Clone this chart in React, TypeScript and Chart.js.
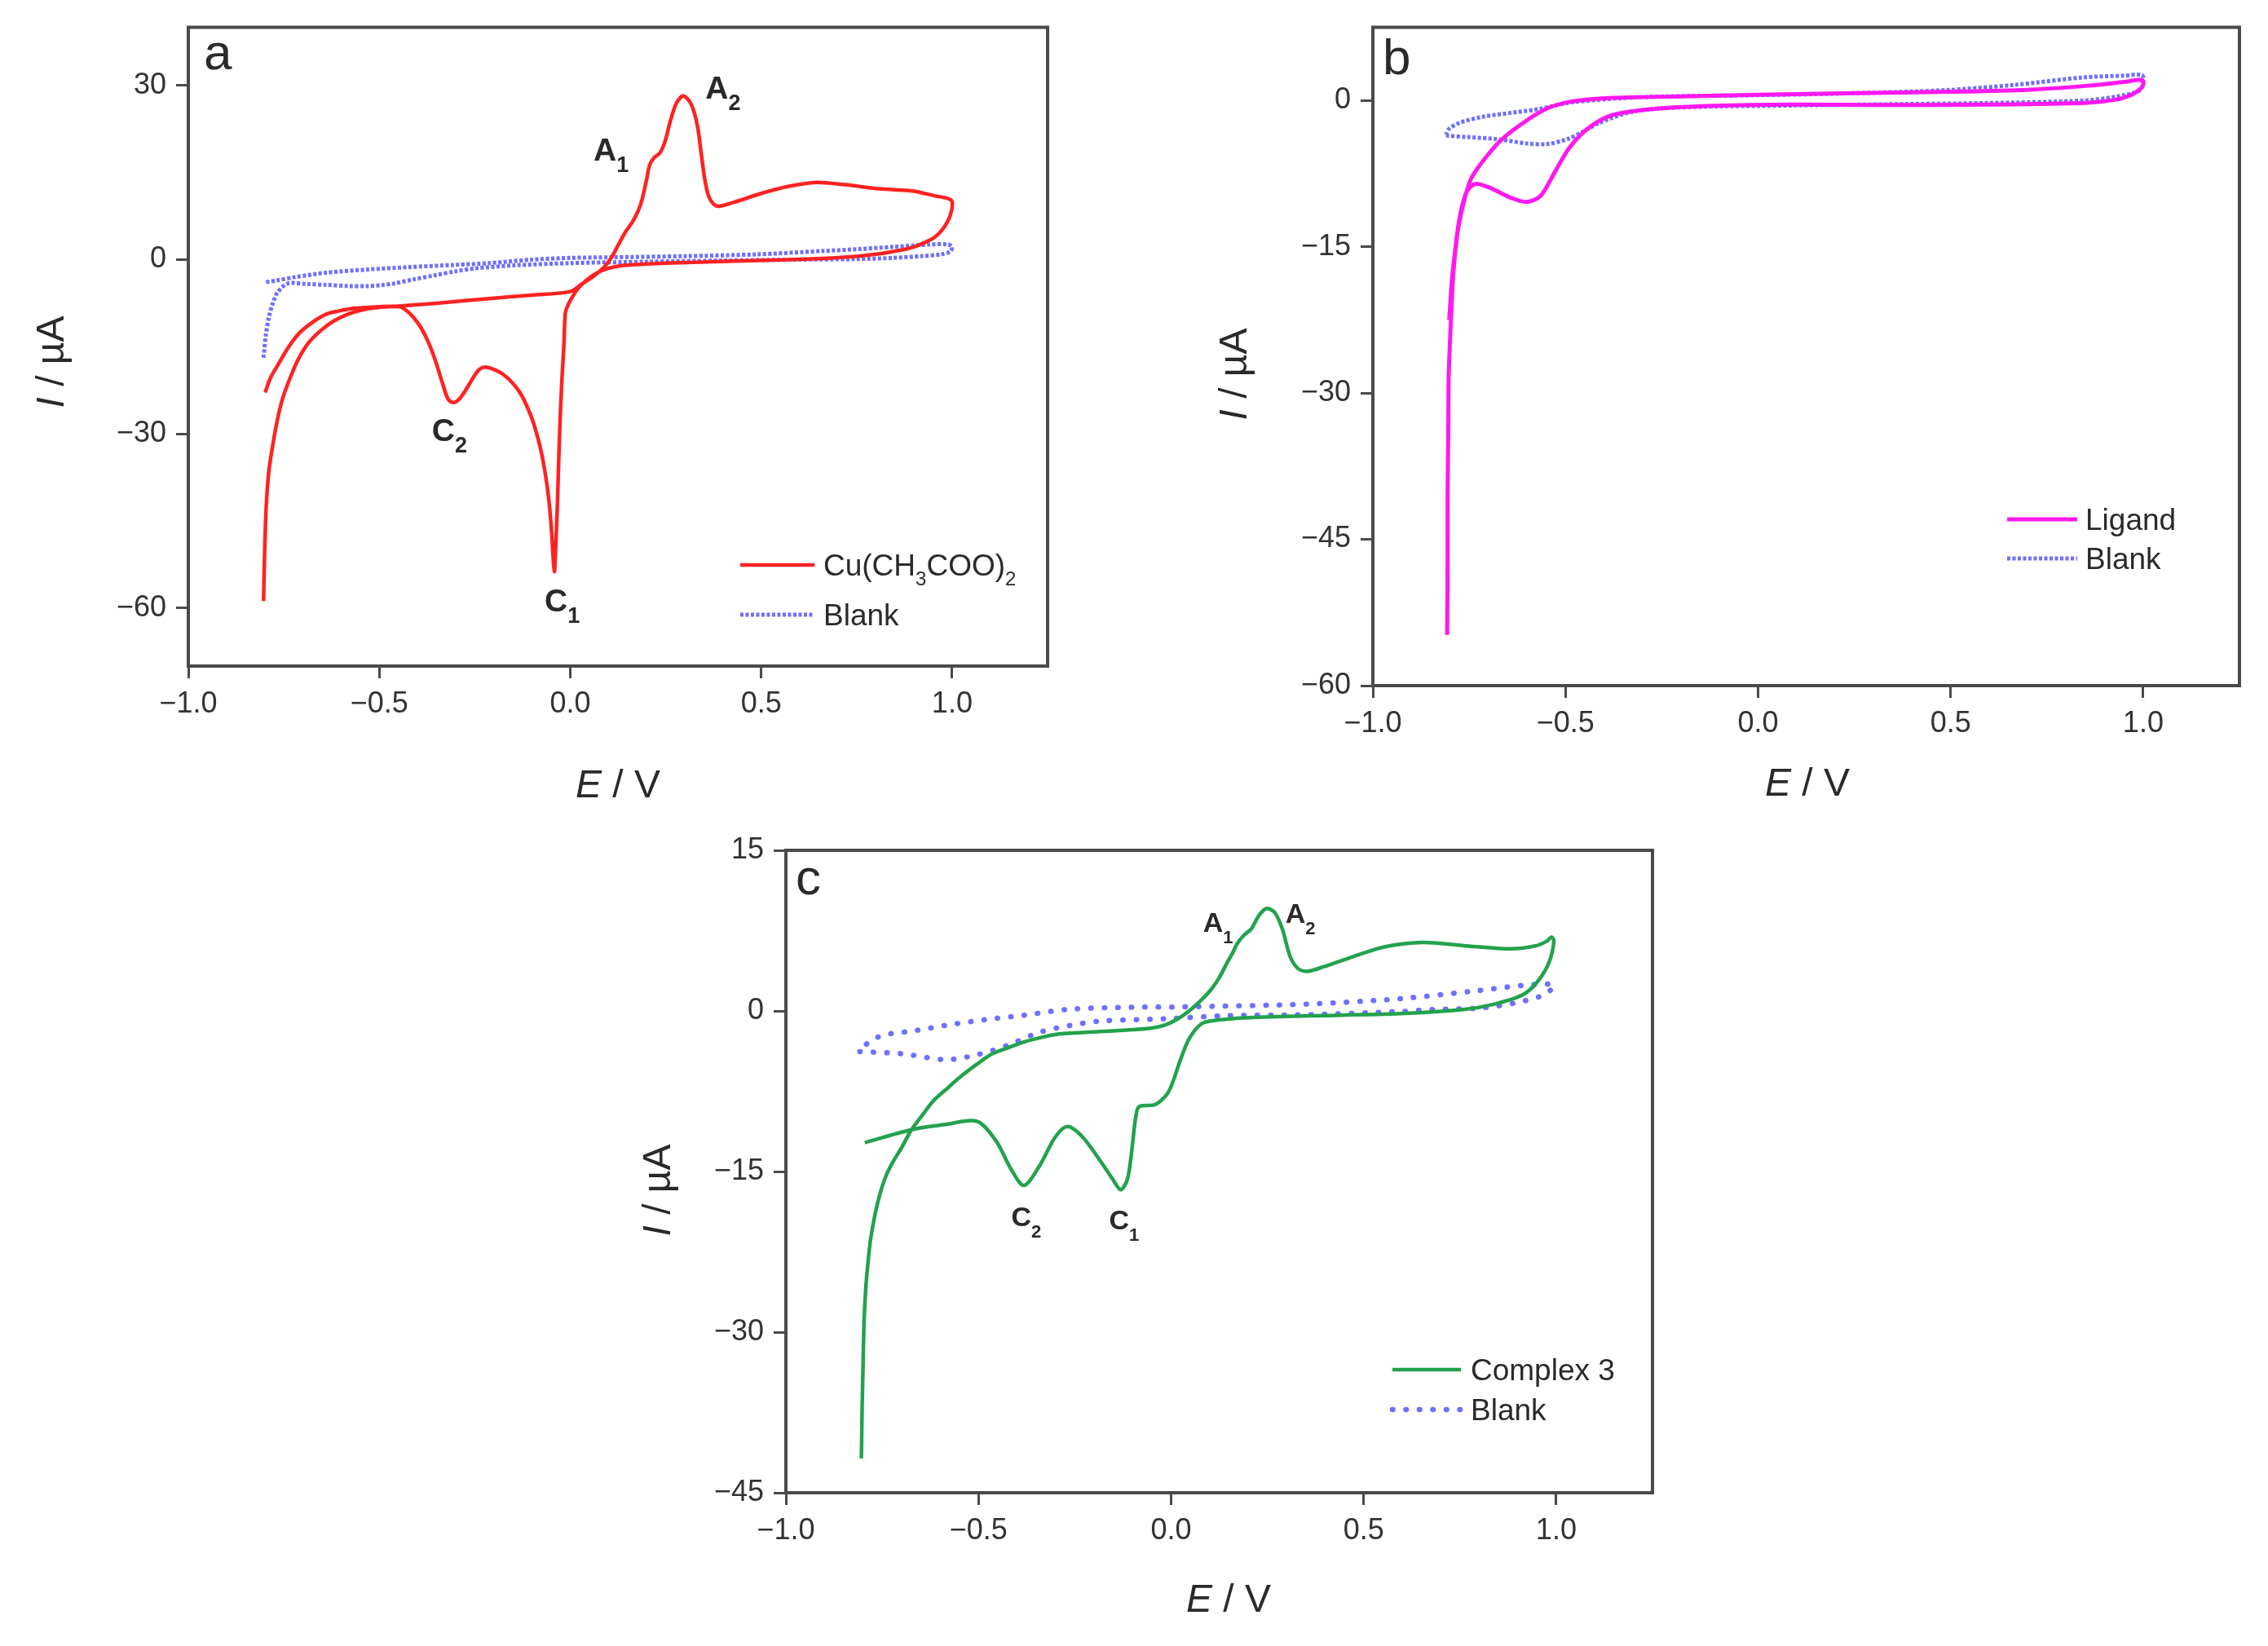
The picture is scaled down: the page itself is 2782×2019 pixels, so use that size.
import React, { useEffect, useRef } from "react";
import { Chart, registerables } from "chart.js";

Chart.register(...registerables);

const W = 2782;
const H = 2019;
const FONT = '"Liberation Sans", Arial, Helvetica, sans-serif';
const AXIS_COLOR = "#4a4a4a";
const TEXT_COLOR = "#2a2a2a";

// ---------- tick values ----------
const X_TICKS = [-1.0, -0.5, 0.0, 0.5, 1.0];
const A_Y_TICKS = [30, 0, -30, -60];
const B_Y_TICKS = [0, -15, -30, -45, -60];
const C_Y_TICKS = [15, 0, -15, -30, -45];

// ---------- series names ----------
const A_SERIES = ["Cu(CH3COO)2", "Blank"];
const B_SERIES = ["Ligand", "Blank"];
const C_SERIES = ["Complex 3", "Blank"];

// ---------- panel a: Cu(CH3COO)2 ----------
const A_CU_E = [
  -0.803, -0.8, -0.796, -0.79, -0.782, -0.768, -0.753, -0.73, -0.71, -0.685, -0.653, -0.62, -0.582, -0.545, -0.511,
  -0.45, -0.35, -0.212, -0.1, 0.0, 0.03, 0.06, 0.09, 0.11, 0.128, 0.145, 0.163, 0.178, 0.188, 0.199, 0.208, 0.22,
  0.235, 0.248, 0.262, 0.277, 0.295, 0.312, 0.325, 0.335, 0.343, 0.352, 0.362, 0.375, 0.39, 0.43, 0.5, 0.57, 0.645,
  0.72, 0.81, 0.9, 0.953, 0.985, 1.0, 0.998, 0.99, 0.975, 0.955, 0.93, 0.9, 0.863, 0.81, 0.755, 0.66, 0.575, 0.45,
  0.305, 0.2, 0.14, 0.1, 0.07, 0.045, 0.02, 0.004, -0.007, -0.013, -0.0165, -0.022, -0.027, -0.031, -0.034, -0.038,
  -0.041, -0.044, -0.0485, -0.055, -0.063, -0.073, -0.084, -0.1, -0.127, -0.15, -0.177, -0.2, -0.223, -0.238, -0.248,
  -0.262, -0.283, -0.297, -0.308, -0.32, -0.333, -0.35, -0.369, -0.39, -0.411, -0.43, -0.447, -0.5, -0.568, -0.61,
  -0.639, -0.675, -0.71, -0.74, -0.767, -0.785, -0.799,
];
const A_CU_I = [
  -58.8, -50, -42.5, -37, -33.2, -28, -23.9, -19.8, -16.9, -14.3, -12.2, -10.6, -9.4, -8.7, -8.3, -8.0, -7.5, -6.7,
  -6.1, -5.5, -4.2, -2.9, -1.2, 0.6, 2.8, 4.8, 6.5, 8.4, 10.3, 13.5, 16.3, 17.6, 18.4, 20.3, 23.8, 26.8, 28.2, 27.3,
  25.3, 22.3, 18.3, 14.0, 11.0, 9.6, 9.2, 9.9, 11.4, 12.6, 13.3, 12.9, 12.2, 11.8, 11.0, 10.6, 10.0, 8.3, 6.8, 5.2, 3.9,
  3.0, 2.2, 1.6, 1.0, 0.6, 0.2, 0.0, -0.2, -0.5, -0.75, -1.0, -1.5, -2.3, -3.4, -5.0, -6.6, -8.0, -9.3, -14.6, -21.0,
  -28.5, -36.5, -43.0, -49.5, -53.7, -52.0, -47.1, -42.0, -37.8, -34.0, -30.9, -27.4, -23.4, -21.3, -19.7, -18.9, -18.5,
  -18.9, -19.7, -21.2, -23.4, -24.4, -24.6, -24.0, -21.6, -18.0, -14.6, -11.8, -9.9, -8.7, -8.1, -8.1, -8.4, -8.9, -9.4,
  -10.8, -12.7, -15.3, -18.3, -20.4, -22.9,
];

// ---------- panel a: blank ----------
const A_BLANK_E = [
  -0.803, -0.797, -0.789, -0.778, -0.767, -0.739, -0.69, -0.639, -0.58, -0.532, -0.495, -0.461, -0.41, -0.355, -0.3,
  -0.248, -0.15, 0.0, 0.2, 0.4, 0.6, 0.75, 0.845, 0.92, 0.97, 0.995, 1.0, 0.99, 0.94, 0.845, 0.75, 0.665, 0.485, 0.3,
  0.1, 0.0, -0.1, -0.212, -0.3, -0.426, -0.53, -0.639, -0.72, -0.77, -0.8,
];
const A_BLANK_I = [
  -16.9, -13.0, -9.9, -7.4, -5.7, -4.1, -4.2, -4.35, -4.55, -4.57, -4.4, -4.1, -3.4, -2.7, -2.0, -1.5, -1.0, -0.6,
  -0.35, -0.15, 0.0, 0.1, 0.3, 0.6, 0.9, 1.4, 2.2, 2.6, 2.6, 2.2, 1.8, 1.5, 0.9, 0.6, 0.4, 0.3, 0.0, -0.6, -0.9, -1.3,
  -1.7, -2.25, -3.0, -3.6, -3.9,
];

// ---------- panel b: ligand ----------
const B_LIG_E = [
  -0.807, -0.806, -0.806, -0.804, -0.803, -0.797, -0.791, -0.78, -0.765, -0.746, -0.715, -0.67, -0.61, -0.549, -0.488,
  -0.413, -0.3, -0.1, 0.0, 0.25, 0.5, 0.7, 0.85, 0.95, 0.997, 1.0, 0.99, 0.97, 0.93, 0.85, 0.6, 0.3, 0.093, -0.11,
  -0.261, -0.375, -0.436, -0.489, -0.527, -0.565, -0.6015, -0.64, -0.693, -0.73, -0.748, -0.761, -0.776, -0.787,
  -0.795, -0.8, -0.802,
];
const B_LIG_I = [
  -54.8, -47.0, -40.6, -33.0, -28.1, -22.3, -17.7, -13.5, -10.6, -8.1, -6.25, -4.17, -2.3, -0.83, -0.13, 0.2, 0.35,
  0.5, 0.6, 0.75, 0.9, 1.1, 1.5, 1.9, 2.1, 1.6, 1.1, 0.6, 0.1, -0.25, -0.42, -0.45, -0.42, -0.54, -0.83, -1.46, -2.7,
  -4.8, -7.3, -9.8, -10.4, -10.0, -9.0, -8.54, -8.9, -9.8, -12.3, -15.6, -18.5, -21.5, -22.5,
];

// ---------- panel b: blank ----------
const B_BLANK_E = [
  -0.81, -0.753, -0.677, -0.601, -0.548, -0.495, -0.45, -0.413, -0.337, -0.261, -0.1, 0.0, 0.3, 0.6, 0.844, 0.93,
  0.99, 1.0, 0.997, 0.95, 0.844, 0.664, 0.484, 0.2, 0.0, -0.3, -0.488, -0.563, -0.639, -0.715, -0.776, -0.802, -0.81,
];
const B_BLANK_I = [
  -3.6, -3.75, -3.96, -4.4, -4.46, -3.96, -3.1, -2.3, -1.25, -0.83, -0.6, -0.55, -0.4, -0.25, 0.0, 0.4, 1.0, 1.8, 2.6,
  2.55, 2.37, 1.6, 1.06, 0.7, 0.55, 0.35, -0.2, -0.83, -1.25, -1.67, -2.3, -2.9, -3.5,
];

// ---------- panel c: complex 3 ----------
const C_CPX_E = [
  -0.804, -0.802, -0.8, -0.797, -0.792, -0.786, -0.78, -0.768, -0.755, -0.74, -0.722, -0.7, -0.674, -0.645, -0.617,
  -0.58, -0.545, -0.505, -0.464, -0.42, -0.382, -0.34, -0.301, -0.22, -0.099, -0.05, -0.018, 0.015, 0.047, 0.078,
  0.104, 0.125, 0.144, 0.159, 0.172, 0.19, 0.208, 0.228, 0.247, 0.269, 0.289, 0.309, 0.33, 0.354, 0.394, 0.475, 0.556,
  0.653, 0.759, 0.881, 0.946, 0.975, 0.988, 0.994, 0.982, 0.953, 0.913, 0.84, 0.759, 0.597, 0.354, 0.192, 0.111, 0.079,
  0.047, 0.023, 0.005, -0.01, -0.042, -0.083, -0.092, -0.099, -0.107, -0.115, -0.131, -0.15, -0.18, -0.229, -0.269,
  -0.301, -0.342, -0.382, -0.415, -0.455, -0.504, -0.585, -0.674, -0.795,
];
const C_CPX_I = [
  -41.8, -37.0, -33.7, -29.0, -25.6, -23.2, -21.3, -18.9, -17.0, -15.4, -14.1, -12.8, -11.1, -9.7, -8.4, -7.2, -6.1,
  -5.0, -4.0, -3.4, -2.9, -2.5, -2.2, -2.0, -1.75, -1.6, -1.35, -0.8, 0.0, 1.0, 2.0, 3.1, 4.4, 5.35, 6.3, 7.1, 7.65,
  8.9, 9.56, 9.2, 7.65, 5.1, 3.95, 3.7, 4.1, 5.1, 6.0, 6.4, 6.1, 5.8, 6.07, 6.5, 6.9, 6.5, 4.6, 2.8, 1.5, 0.64, 0.13,
  -0.25, -0.46, -0.64, -0.9, -1.2, -2.6, -4.7, -6.6, -7.75, -8.76, -8.93, -10.0, -12.1, -14.5, -15.9, -16.7, -15.8,
  -14.2, -11.8, -10.8, -11.8, -14.5, -16.3, -14.8, -12.1, -10.3, -10.6, -11.1, -12.3,
];

// ---------- panel c: blank ----------
const C_BLANK_E = [
  -0.808, -0.699, -0.585, -0.504, -0.423, -0.342, -0.261, -0.18, -0.018, 0.144, 0.354, 0.597, 0.679, 0.8, 0.897, 0.97,
  0.994, 0.921, 0.8, 0.597, 0.354, 0.03, -0.099, -0.261, -0.382, -0.488, -0.585, -0.666, -0.739, -0.776, -0.8,
];
const C_BLANK_I = [
  -3.8, -4.0, -4.55, -4.1, -3.2, -2.0, -1.35, -0.94, -0.74, -0.45, -0.35, -0.05, 0.13, 0.26, 0.77, 1.53, 2.42, 2.4,
  1.91, 1.15, 0.64, 0.38, 0.34, 0.17, -0.4, -0.84, -1.35, -1.85, -2.2, -2.7, -3.4,
];

type Seg = { t: string; sub?: boolean; italic?: boolean };
type Series = { name: string; e: number[]; i: number[]; color: string; width: number; dash: number[]; cap: CanvasLineCap };
type Annot = { main: string; sub: string; e: number; i: number };
type PanelCfg = {
  id: string;
  box: { left: number; top: number; right: number; bottom: number };
  yMin: number;
  yMax: number;
  yTicks: number[];
  series: Series[];
  letter: { t: string; x: number; y: number };
  legend: { x0: number; x1: number; tx: number; rows: number[]; labels: Seg[][] };
  xTitle: { cx: number; by: number };
  yTitle: { cx: number; cy: number };
  annots: Annot[];
  annotSize: number;
  annotSub: number;
};

const pts = (e: number[], i: number[]) => e.map((x, k) => ({ x, y: i[k] }));
const fmtNum = (v: number, d: number) => (v < 0 ? "\u2212" + Math.abs(v).toFixed(d) : v.toFixed(d));

const RED = "#ff2222";
const MAGENTA = "#ff18f0";
const GREEN = "#22a24c";
const BLUE = "rgba(95,95,255,0.9)";

const DENSE_DASH = [4, 2.5];
const DOTS = [0.5, 16];

const PANELS: PanelCfg[] = [
  {
    id: "a",
    box: { left: 231, top: 29, right: 1285, bottom: 817 },
    yMin: -70,
    yMax: 40,
    yTicks: A_Y_TICKS,
    series: [
      { name: A_SERIES[0], e: A_CU_E, i: A_CU_I, color: RED, width: 4.5, dash: [], cap: "butt" },
      { name: A_SERIES[1], e: A_BLANK_E, i: A_BLANK_I, color: BLUE, width: 5, dash: DENSE_DASH, cap: "butt" },
    ],
    letter: { t: "a", x: 250, y: 85 },
    legend: {
      x0: 908,
      x1: 999,
      tx: 1010,
      rows: [693, 754],
      labels: [
        [{ t: "Cu(CH" }, { t: "3", sub: true }, { t: "COO)" }, { t: "2", sub: true }],
        [{ t: "Blank" }],
      ],
    },
    xTitle: { cx: 758, by: 978 },
    yTitle: { cx: 65, cy: 444 },
    annots: [
      { main: "A", sub: "1", e: 0.061, i: 17.1 },
      { main: "A", sub: "2", e: 0.354, i: 27.7 },
      { main: "C", sub: "2", e: -0.362, i: -31.3 },
      { main: "C", sub: "1", e: -0.067, i: -60.6 },
    ],
    annotSize: 39,
    annotSub: 27,
  },
  {
    id: "b",
    box: { left: 1684, top: 29, right: 2747, bottom: 841 },
    yMin: -60,
    yMax: 7.5,
    yTicks: B_Y_TICKS,
    series: [
      { name: B_SERIES[0], e: B_LIG_E, i: B_LIG_I, color: MAGENTA, width: 5, dash: [], cap: "butt" },
      { name: B_SERIES[1], e: B_BLANK_E, i: B_BLANK_I, color: BLUE, width: 5, dash: DENSE_DASH, cap: "butt" },
    ],
    letter: { t: "b", x: 1696, y: 91 },
    legend: {
      x0: 2462,
      x1: 2548,
      tx: 2558,
      rows: [637, 685],
      labels: [[{ t: "Ligand" }], [{ t: "Blank" }]],
    },
    xTitle: { cx: 2217, by: 976 },
    yTitle: { cx: 1516, cy: 459 },
    annots: [],
    annotSize: 39,
    annotSub: 27,
  },
  {
    id: "c",
    box: { left: 964, top: 1043, right: 2027, bottom: 1831 },
    yMin: -45,
    yMax: 15,
    yTicks: C_Y_TICKS,
    series: [
      { name: C_SERIES[0], e: C_CPX_E, i: C_CPX_I, color: GREEN, width: 4.5, dash: [], cap: "butt" },
      { name: C_SERIES[1], e: C_BLANK_E, i: C_BLANK_I, color: BLUE, width: 6.5, dash: DOTS, cap: "round" },
    ],
    letter: { t: "c", x: 976, y: 1097 },
    legend: {
      x0: 1708,
      x1: 1792,
      tx: 1804,
      rows: [1680, 1729],
      labels: [[{ t: "Complex 3" }], [{ t: "Blank" }]],
    },
    xTitle: { cx: 1507, by: 1977 },
    yTitle: { cx: 809, cy: 1460 },
    annots: [
      { main: "A", sub: "1", e: 0.083, i: 7.4 },
      { main: "A", sub: "2", e: 0.297, i: 8.26 },
      { main: "C", sub: "2", e: -0.415, i: -20.1 },
      { main: "C", sub: "1", e: -0.161, i: -20.4 },
    ],
    annotSize: 34,
    annotSub: 22,
  },
];

const Y_AXIS_W = 140;
const X_AXIS_H = 90;
const TICK_FONT = 36;
const LEGEND_FONT = 37;
const TITLE_FONT = 48;

function richWidth(ctx: CanvasRenderingContext2D, segs: Seg[], size: number, bold: boolean, subSize: number) {
  let w = 0;
  for (const s of segs) {
    const fs = s.sub ? subSize : size;
    ctx.font = `${s.italic ? "italic " : ""}${bold ? "bold " : ""}${fs}px ${FONT}`;
    w += ctx.measureText(s.t).width;
  }
  return w;
}

function drawRich(
  ctx: CanvasRenderingContext2D,
  segs: Seg[],
  x: number,
  y: number,
  size: number,
  bold: boolean,
  subSize: number,
  subDy: number
) {
  let cx = x;
  for (const s of segs) {
    const fs = s.sub ? subSize : size;
    ctx.font = `${s.italic ? "italic " : ""}${bold ? "bold " : ""}${fs}px ${FONT}`;
    ctx.fillText(s.t, cx, y + (s.sub ? subDy : 0));
    cx += ctx.measureText(s.t).width;
  }
}

function decorPlugin(cfg: PanelCfg) {
  return {
    id: "decor_" + cfg.id,
    afterDraw(chart: any) {
      const ctx: CanvasRenderingContext2D = chart.ctx;
      const ca = chart.chartArea;
      const xs = chart.scales.x;
      const ys = chart.scales.y;
      ctx.save();
      // top and right frame
      ctx.strokeStyle = AXIS_COLOR;
      ctx.lineWidth = 4;
      ctx.setLineDash([]);
      ctx.beginPath();
      ctx.moveTo(ca.left - 2, ca.top);
      ctx.lineTo(ca.right, ca.top);
      ctx.lineTo(ca.right, ca.bottom + 2);
      ctx.stroke();

      ctx.fillStyle = TEXT_COLOR;
      ctx.textBaseline = "alphabetic";
      ctx.textAlign = "left";

      // panel letter
      ctx.font = `62px ${FONT}`;
      ctx.fillText(cfg.letter.t, cfg.letter.x, cfg.letter.y);

      // peak annotations
      for (const a of cfg.annots) {
        const px = xs.getPixelForValue(a.e);
        const py = ys.getPixelForValue(a.i);
        drawRich(ctx, [{ t: a.main }, { t: a.sub, sub: true }], px, py, cfg.annotSize, true, cfg.annotSub, 14);
      }

      // legend
      cfg.series.forEach((s, k) => {
        const y = cfg.legend.rows[k];
        ctx.strokeStyle = s.color;
        ctx.lineWidth = s.width;
        ctx.lineCap = s.cap;
        ctx.setLineDash(s.dash);
        ctx.beginPath();
        ctx.moveTo(cfg.legend.x0, y);
        ctx.lineTo(cfg.legend.x1, y);
        ctx.stroke();
        ctx.setLineDash([]);
        ctx.lineCap = "butt";
        ctx.fillStyle = TEXT_COLOR;
        drawRich(ctx, cfg.legend.labels[k], cfg.legend.tx, y + 13, LEGEND_FONT, false, 24, 12);
      });

      // x title: E / V
      const xt: Seg[] = [{ t: "E", italic: true }, { t: " / V" }];
      const xw = richWidth(ctx, xt, TITLE_FONT, false, TITLE_FONT);
      drawRich(ctx, xt, cfg.xTitle.cx - xw / 2, cfg.xTitle.by, TITLE_FONT, false, TITLE_FONT, 0);

      // y title: I / µA (rotated)
      const yt: Seg[] = [{ t: "I", italic: true }, { t: " / \u00b5A" }];
      const yw = richWidth(ctx, yt, TITLE_FONT, false, TITLE_FONT);
      ctx.translate(cfg.yTitle.cx, cfg.yTitle.cy);
      ctx.rotate(-Math.PI / 2);
      ctx.textBaseline = "middle";
      drawRich(ctx, yt, -yw / 2, 0, TITLE_FONT, false, TITLE_FONT, 0);
      ctx.restore();
    },
  };
}

function buildConfig(cfg: PanelCfg): any {
  const axisCommon = {
    type: "linear",
    grid: {
      drawOnChartArea: false,
      drawTicks: true,
      tickLength: 15,
      color: AXIS_COLOR,
      lineWidth: 3,
    },
    border: { display: true, color: AXIS_COLOR, width: 4 },
  };
  return {
    type: "scatter",
    data: {
      datasets: cfg.series.map((s) => ({
        label: s.name,
        data: pts(s.e, s.i),
        showLine: true,
        borderColor: s.color,
        backgroundColor: s.color,
        borderWidth: s.width,
        borderDash: s.dash,
        borderCapStyle: s.cap,
        borderJoinStyle: "round",
        pointRadius: 0,
        pointHoverRadius: 0,
        tension: 0.3,
        fill: false,
      })),
    },
    options: {
      responsive: false,
      animation: false,
      devicePixelRatio: 1,
      events: [],
      layout: {
        padding: {
          left: cfg.box.left - Y_AXIS_W,
          top: cfg.box.top,
          right: W - cfg.box.right,
          bottom: H - cfg.box.bottom - X_AXIS_H,
        },
      },
      plugins: { legend: { display: false }, tooltip: { enabled: false }, title: { display: false } },
      scales: {
        x: {
          ...axisCommon,
          position: "bottom",
          min: -1.0,
          max: 1.25,
          afterFit: (s: any) => {
            s.height = X_AXIS_H;
          },
          afterBuildTicks: (s: any) => {
            s.ticks = X_TICKS.map((v) => ({ value: v }));
          },
          ticks: {
            font: { family: FONT, size: TICK_FONT },
            color: "#333",
            padding: 10,
            maxRotation: 0,
            autoSkip: false,
            callback: (v: any) => fmtNum(Number(v), 1),
          },
        },
        y: {
          ...axisCommon,
          position: "left",
          min: cfg.yMin,
          max: cfg.yMax,
          afterFit: (s: any) => {
            s.width = Y_AXIS_W;
          },
          afterBuildTicks: (s: any) => {
            s.ticks = cfg.yTicks.map((v) => ({ value: v }));
          },
          ticks: {
            font: { family: FONT, size: TICK_FONT },
            color: "#333",
            padding: 12,
            autoSkip: false,
            callback: (v: any) => fmtNum(Number(v), 0),
          },
        },
      },
    },
    plugins: [decorPlugin(cfg)],
  };
}

function Panel({ cfg }: { cfg: PanelCfg }) {
  const ref = useRef<HTMLCanvasElement | null>(null);
  useEffect(() => {
    if (!ref.current) return;
    const chart = new Chart(ref.current, buildConfig(cfg));
    return () => chart.destroy();
  }, [cfg]);
  return (
    <canvas
      ref={ref}
      width={W}
      height={H}
      style={{ position: "absolute", left: 0, top: 0, width: W, height: H }}
    />
  );
}

export default function App() {
  return (
    <div
      style={{
        position: "absolute",
        left: 0,
        top: 0,
        width: W,
        height: H,
        overflow: "hidden",
        background: "#ffffff",
      }}
    >
      {PANELS.map((p) => (
        <Panel key={p.id} cfg={p} />
      ))}
    </div>
  );
}
